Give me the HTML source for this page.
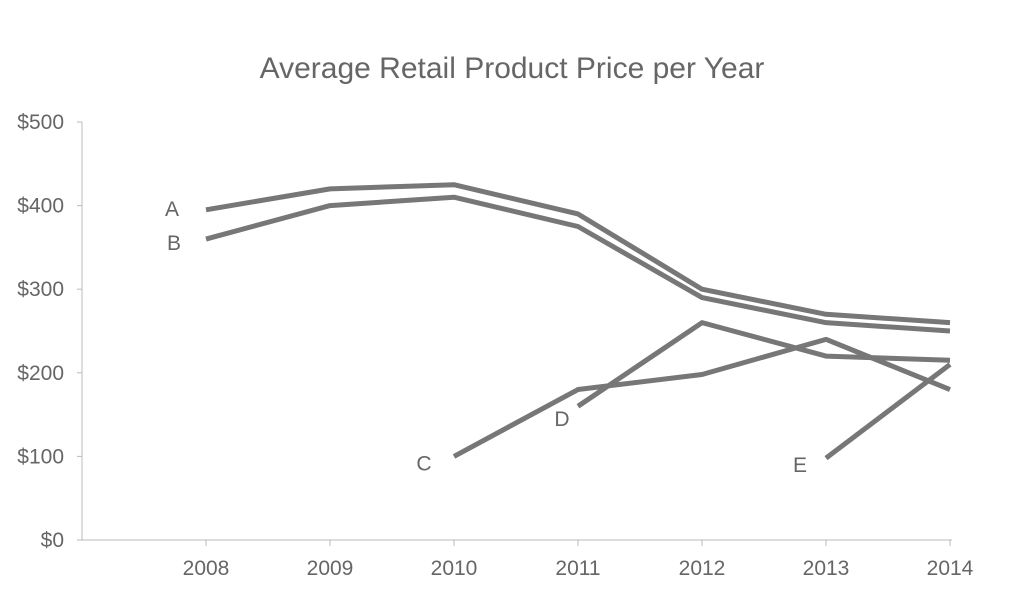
<!DOCTYPE html>
<html><head><meta charset="utf-8"><style>
body{margin:0;background:#fff;}
svg{display:block;font-family:"Liberation Sans",Arial,sans-serif;}
</style></head><body>
<svg id="chart" width="1023" height="594" viewBox="0 0 1023 594">
<text x="512" y="78" text-anchor="middle" font-size="30" fill="#666">Average Retail Product Price per Year</text>
<g id="axes"></g>
<g id="series"></g>
</svg>
<script>
const years=[2008,2009,2010,2011,2012,2013,2014];
const yTicks=[0,100,200,300,400,500];
const seriesNames=["A","B","C","D","E"];
const valuesA=[395,420,425,390,300,270,260];
const valuesB=[360,400,410,375,290,260,250];
const valuesC=[null,null,100,180,198,240,180];
const valuesD=[null,null,null,160,260,220,215];
const valuesE=[null,null,null,null,null,98,210];
const allValues=[valuesA,valuesB,valuesC,valuesD,valuesE];
const labelOffsets=[[-34,6],[-32,11],[-30,14],[-16,20],[-26,14]];

const NS="http://www.w3.org/2000/svg";
const x0=206,x1=950,yBase=540,yTop=122;
function xs(i){return x0+(x1-x0)*i/(years.length-1);}
function ys(v){return yBase-(yBase-yTop)*v/500;}
const axes=document.getElementById('axes');
const ser=document.getElementById('series');
function mk(tag,attrs,parent){const e=document.createElementNS(NS,tag);for(const k in attrs)e.setAttribute(k,attrs[k]);parent.appendChild(e);return e;}

const yl=mk('line',{x1:82,x2:82,y1:yTop,y2:yBase,stroke:'#bbb','stroke-width':1},axes);


const xl=mk('line',{x1:82,x2:x1+2,y1:yBase,y2:yBase,stroke:'#bbb','stroke-width':1},axes);


yTicks.forEach(v=>{
  const t=mk('line',{x1:77,x2:82,y1:ys(v),y2:ys(v),stroke:'#bbb'},axes);
  
  
  const l=mk('text',{x:64,y:ys(v)+7,'text-anchor':'end','font-size':21,fill:'#666'},axes);
  l.textContent='$'+v;
  
  
});
years.forEach((yr,i)=>{
  const t=mk('line',{x1:xs(i),x2:xs(i),y1:yBase,y2:yBase+6,stroke:'#bbb'},axes);
  
  
  const l=mk('text',{x:xs(i),y:575,'text-anchor':'middle','font-size':21,fill:'#666'},axes);
  l.textContent=yr;
  
  
});
allValues.forEach((vals,s)=>{
  const pts=[];vals.forEach((v,i)=>{if(v!==null)pts.push([xs(i),ys(v)]);});
  const p=mk('polyline',{points:pts.map(p=>p.join(',')).join(' '),fill:'none',stroke:'#777','stroke-width':5,'stroke-linejoin':'round'},ser);
  
  
  const o=labelOffsets[s];
  const t=mk('text',{x:pts[0][0]+o[0],y:pts[0][1]+o[1],'text-anchor':'middle','font-size':21,fill:'#666'},ser);
  t.textContent=seriesNames[s];
  
  
});
</script>
</body></html>
